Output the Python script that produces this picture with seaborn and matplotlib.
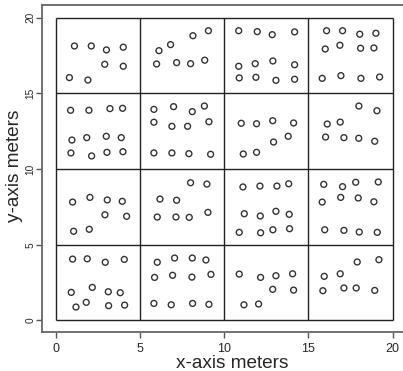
import matplotlib
matplotlib.use("Agg")
import matplotlib.pyplot as plt
import seaborn as sns
import pandas as pd

# point coordinates (meters), read cell by cell
x_vals = [
    # cell 0-5, 15-20
    1.1, 2.1, 3.0, 4.0, 2.9, 4.0, 0.8, 1.9,
    # cell 0-5, 10-15
    0.87, 1.96, 3.21, 3.96, 0.95, 1.83, 2.99, 3.88, 0.89, 2.12, 3.03, 3.98,
    # cell 5-10, 15-20
    6.12, 6.81, 8.14, 9.06, 5.98, 7.17, 8.0, 8.84,
    # cell 5-10, 10-15
    5.82, 6.99, 8.10, 8.82, 5.82, 6.89, 7.82, 9.09, 5.82, 6.89, 7.90, 9.19,
    # cell 10-15, 15-20
    10.86, 11.96, 12.85, 14.18, 10.86, 11.84, 12.89, 14.18, 10.89, 11.88, 13.07, 14.18,
    # cell 15-20, 15-20
    16.08, 17.03, 18.05, 19.01, 16.0, 16.87, 18.10, 18.89, 15.82, 16.93, 18.12, 19.23,
    # cell 10-15, 10-15
    11.01, 11.92, 12.88, 14.12, 12.93, 13.80, 11.13, 11.92,
    # cell 15-20, 10-15
    18.0, 19.07, 16.12, 16.89, 16.02, 17.11, 17.99, 18.94,
    # cell 0-5, 5-10
    0.99, 2.02, 3.05, 3.94, 2.91, 4.20, 1.05, 1.98,
    # cell 0-5, 0-5
    0.99, 1.86, 2.93, 4.06, 0.91, 2.16, 3.11, 3.82, 1.19, 1.80, 3.13, 4.08,
    # cell 5-10, 5-10
    6.18, 7.17, 8.0, 8.97, 6.02, 7.13, 7.92, 9.03,
    # cell 5-10, 0-5
    6.02, 7.05, 8.10, 8.91, 5.86, 6.93, 8.08, 9.21, 5.82, 6.85, 8.12, 9.09,
    # cell 10-15, 5-10
    11.11, 12.12, 13.13, 13.83, 11.19, 12.14, 13.07, 13.86, 10.89, 12.16, 12.89, 13.88,
    # cell 15-20, 5-10
    15.91, 17.03, 17.81, 19.15, 15.82, 16.92, 17.96, 18.89, 15.97, 17.11, 18.02, 19.09,
    # cell 10-15, 0-5
    10.89, 12.16, 13.07, 14.06, 12.88, 14.12, 11.17, 12.04,
    # cell 15-20, 0-5
    15.94, 16.89, 17.90, 19.19, 15.86, 17.11, 17.84, 18.94,
]
y_vals = [
    18.14, 18.14, 17.88, 18.06, 16.93, 16.80, 16.05, 15.89,
    13.89, 13.89, 14.0, 14.02, 11.92, 12.08, 12.17, 12.08, 11.07, 10.87, 11.11, 11.15,
    17.83, 18.23, 18.82, 19.15, 16.95, 17.04, 16.97, 17.20,
    13.95, 14.13, 13.80, 14.17, 13.10, 12.83, 12.83, 13.13, 11.07, 11.07, 11.02, 10.98,
    19.15, 19.09, 18.89, 19.07, 16.80, 16.97, 17.15, 16.90, 16.03, 16.07, 15.87, 15.94,
    19.15, 19.15, 18.92, 18.98, 17.94, 18.19, 17.99, 18.01, 16.0, 16.18, 16.0, 16.09,
    13.03, 13.0, 13.2, 13.05, 11.79, 12.17, 11.0, 11.11,
    14.17, 13.86, 12.98, 13.11, 12.12, 12.08, 12.04, 11.84,
    7.82, 8.13, 7.96, 7.87, 6.98, 6.88, 5.89, 6.02,
    4.05, 4.07, 3.84, 4.03, 1.85, 2.18, 1.89, 1.83, 0.88, 1.19, 0.97, 1.01,
    8.02, 7.94, 9.10, 9.01, 6.83, 6.83, 6.81, 7.14,
    3.84, 4.12, 4.12, 3.99, 2.84, 2.98, 2.86, 3.04, 1.12, 1.03, 1.12, 1.06,
    8.82, 8.88, 8.88, 9.03, 7.05, 6.90, 7.21, 7.01, 5.82, 5.79, 5.99, 6.06,
    8.99, 8.84, 9.13, 9.15, 7.82, 8.13, 8.09, 7.84, 5.99, 5.95, 5.84, 5.82,
    3.06, 2.84, 2.95, 3.08, 2.05, 2.0, 1.03, 1.08,
    2.91, 3.08, 3.86, 4.01, 1.96, 2.14, 2.14, 1.98,
]
grid_lines = [0, 5, 10, 15, 20]
tick_values = [0, 5, 10, 15, 20]
tick_labels = ["0", "5", "10", "15", "20"]
x_label = "x-axis meters"
y_label = "y-axis meters"

df = pd.DataFrame({"x": x_vals, "y": y_vals})

sns.set_style("white")
plt.rcParams["font.family"] = ["Liberation Sans", "DejaVu Sans"]

fig = plt.figure(figsize=(4.03, 3.71), dpi=100)
ax = fig.add_axes([42.3 / 403, 39.3 / 371, 1 - 42.3 / 403, (331.7 - 5) / 371])

ax.vlines(grid_lines, 0, 20, color="#222222", linewidth=1.0, zorder=1)
ax.hlines(grid_lines, 0, 20, color="#222222", linewidth=1.0, zorder=1)

sns.scatterplot(data=df, x="x", y="y", ax=ax, marker="o", s=18,
                facecolors="none", edgecolor="#333333", linewidth=1.0, zorder=3)

ax.set_xlim(-0.81, 20.62)
ax.set_ylim(-0.75, 20.85)

ax.set_xticks(tick_values)
ax.set_xticklabels(tick_labels, fontsize=9)
ax.set_yticks(tick_values)
ax.set_yticklabels(tick_labels, fontsize=7.3, rotation=90, va="center")
ax.tick_params(axis="both", direction="out", length=4, width=1, color="#555555",
               bottom=True, left=True)
ax.tick_params(axis="x", pad=4)
ax.tick_params(axis="y", pad=1.0)

for side in ["left", "bottom", "top"]:
    ax.spines[side].set_visible(True)
    ax.spines[side].set_color("#666666")
    ax.spines[side].set_linewidth(1.3)
ax.spines["right"].set_visible(False)

ax.set_xlabel(x_label, fontsize=13.7, labelpad=0)
ax.set_ylabel(y_label, fontsize=13.7, labelpad=0)
ax.xaxis.label.set_va("baseline")
ax.yaxis.label.set_va("baseline")
ax.xaxis.set_label_coords((232 - 42.3) / 360.7, (331.7 - 368) / 326.7)
ax.yaxis.set_label_coords((19.5 - 42.3) / 360.7, (331.7 - 166) / 326.7)

fig.savefig("out.png", dpi=100)
